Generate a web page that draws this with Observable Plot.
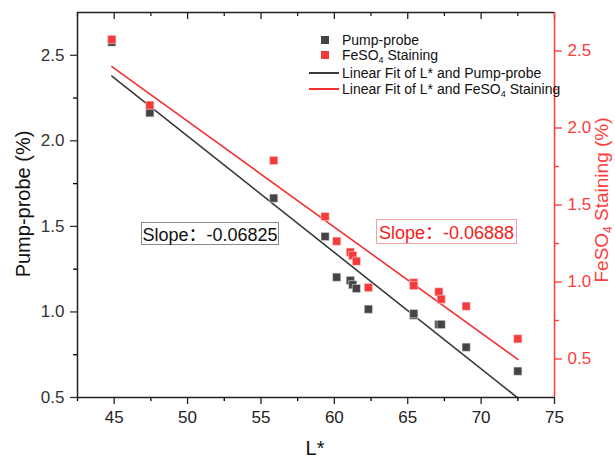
<!DOCTYPE html>
<html>
<head>
<meta charset="utf-8">
<script src="https://cdn.jsdelivr.net/npm/d3@7"></script>
<script src="https://cdn.jsdelivr.net/npm/@observablehq/plot@0.6"></script>
<style>
  body { margin: 0; background: #fff; font-family: "Liberation Sans", Arial, sans-serif; }
  #wrap { position: relative; width: 615px; height: 458px; overflow: hidden; }
  .ov { position: absolute; white-space: nowrap; }
  .lg { font-size: 14px; line-height: 14px; color: #111; }
  .sq { position: absolute; width: 8px; height: 8px; }
  .ln { position: absolute; height: 2px; width: 30px; }
  .cjk { font-family: "Noto Sans CJK SC", sans-serif; }
</style>
</head>
<body>
<div id="wrap"></div>
<script>
// ---- data ----
const lStar   = [44.84, 47.43, 55.87, 59.37, 60.16, 61.09, 61.25, 61.50, 62.32, 65.41, 65.41, 67.12, 67.28, 68.98, 72.50];
const pump    = [2.577, 2.164, 1.665, 1.441, 1.203, 1.184, 1.159, 1.137, 1.016, 0.981, 0.990, 0.927, 0.927, 0.794, 0.654];
const feso4   = [2.575, 2.148, 1.789, 1.425, 1.265, 1.194, 1.172, 1.135, 0.964, 0.995, 0.977, 0.936, 0.888, 0.843, 0.631];
const xTicks      = [45, 50, 55, 60, 65, 70, 75];
const xMinorTicks = [42.5, 47.5, 52.5, 57.5, 62.5, 67.5, 72.5];
const leftTicks      = [0.5, 1.0, 1.5, 2.0, 2.5];
const leftMinorTicks = [0.75, 1.25, 1.75, 2.25];
const rightTicks      = [0.5, 1.0, 1.5, 2.0, 2.5];
const rightMinorTicks = [0.75, 1.25, 1.75, 2.25];
const xDomain = [42.5, 75];
const leftDomain = [0.5, 2.75];
const rightDomain = [0.25, 2.75];
const slopePump = "-0.06825";
const slopeFe = "-0.06888";

// map right-axis values into the left scale's units
const k = (leftDomain[1] - leftDomain[0]) / (rightDomain[1] - rightDomain[0]);
const toLeft = r => leftDomain[0] + (r - rightDomain[0]) * k;
const fromLeft = l => rightDomain[0] + (l - leftDomain[0]) / k;

const black = "#444444", blackLine = "#3a3a3a";
const red = "#f23c3c", redLine = "#f43030", redAxis = "#ff3b3b";

const pumpData = lStar.map((x, i) => ({x, y: pump[i]}));
const feData = lStar.map((x, i) => ({x, y: toLeft(feso4[i])}));

const mL = 77, mR = 61, mT = 12, mB = 61, H = 458;
const frameH = H - mT - mB;

const chart = Plot.plot({
  width: 615, height: H,
  marginLeft: mL, marginRight: mR, marginTop: mT, marginBottom: mB,
  style: {fontFamily: '"Liberation Sans", Arial, sans-serif', background: "white"},
  x: {domain: xDomain, label: null},
  y: {domain: leftDomain, label: null},
  marks: [
    // fit lines
    Plot.linearRegressionY(pumpData, {x: "x", y: "y", ci: 0, stroke: blackLine, strokeWidth: 1.6}),
    Plot.linearRegressionY(feData, {x: "x", y: "y", ci: 0, stroke: redLine, strokeWidth: 1.6}),
    // points
    Plot.dot(pumpData, {x: "x", y: "y", symbol: "square", r: 4.6, fill: black, stroke: "#dddddd", strokeWidth: 0.6}),
    Plot.dot(feData, {x: "x", y: "y", symbol: "square", r: 4.6, fill: red, stroke: "#ffd0d0", strokeWidth: 0.6}),
    // bottom axis
    Plot.axisX({ticks: xTicks, tickSize: 7, tickPadding: 6, fontSize: 17, color: "#222", strokeWidth: 1.3, label: null}),
    Plot.axisX({ticks: xMinorTicks, tickSize: 4, tickFormat: () => "", strokeWidth: 1.3, label: null}),
    // top inward ticks
    Plot.ruleX(xTicks, {x: d => d, insetBottom: frameH - 7, stroke: "#222", strokeWidth: 1.3}),
    Plot.ruleX(xMinorTicks, {x: d => d, insetBottom: frameH - 4, stroke: "#222", strokeWidth: 1.3}),
    // left axis
    Plot.axisY({ticks: leftTicks, tickSize: 7, tickPadding: 6, fontSize: 17, color: "#333", strokeWidth: 1.3, tickFormat: d3.format(".1f"), label: null}),
    Plot.axisY({ticks: leftMinorTicks, tickSize: 4, tickFormat: () => "", strokeWidth: 1.3, label: null}),
    // right axis (red)
    Plot.axisY(rightTicks.map(toLeft), {anchor: "right", tickSize: 7, tickPadding: 6, fontSize: 17, color: redAxis, stroke: redAxis, strokeWidth: 1.3, tickFormat: d => fromLeft(d).toFixed(1), label: null}),
    Plot.axisY(rightMinorTicks.map(toLeft), {anchor: "right", tickSize: 4, tickFormat: () => "", stroke: redAxis, strokeWidth: 1.3, label: null}),
    // frame lines
    Plot.ruleY([leftDomain[1]], {stroke: "#222", strokeWidth: 1.5}),
    Plot.ruleY([leftDomain[0]], {stroke: "#222", strokeWidth: 1.5}),
    Plot.ruleX([xDomain[0]], {stroke: "#222", strokeWidth: 1.5}),
    Plot.ruleX([xDomain[1]], {stroke: redAxis, strokeWidth: 1.5})
  ]
});

const wrap = document.getElementById("wrap");
wrap.appendChild(chart);

function ov(html, css, cls = "ov") {
  const d = document.createElement("div");
  d.className = cls;
  d.innerHTML = html;
  Object.assign(d.style, css);
  wrap.appendChild(d);
  return d;
}

// axis titles
ov("Pump-probe (%)", {left: "22.5px", top: "204px", fontSize: "20px", lineHeight: "20px", color: "#111",
  transform: "translate(-50%,-50%) rotate(-90deg)"});
ov("FeSO<sub style='font-size:12px;vertical-align:-4px;line-height:0'>4</sub> Staining (%)", {left: "601px", top: "200px", fontSize: "19px", lineHeight: "19px", color: redAxis,
  transform: "translate(-50%,-50%) rotate(-90deg)"});
ov("L*", {left: "315px", top: "448px", fontSize: "20px", lineHeight: "20px", color: "#111",
  transform: "translate(-50%,-50%)"});

// legend
ov("", {left: "321px", top: "36px", background: black}, "sq");
ov("", {left: "321px", top: "51px", background: red}, "sq");
ov("", {left: "309px", top: "72px", background: blackLine}, "ln");
ov("", {left: "309px", top: "88px", background: redLine}, "ln");
const sub = "<sub style='font-size:9px;vertical-align:-3px;line-height:0'>4</sub>";
ov("Pump-probe", {left: "342px", top: "33px"}, "ov lg");
ov("FeSO" + sub + " Staining", {left: "342px", top: "48px"}, "ov lg");
ov("Linear Fit of L* and Pump-probe", {left: "342px", top: "66px"}, "ov lg");
ov("Linear Fit of L* and FeSO" + sub + " Staining", {left: "342px", top: "82px"}, "ov lg");

// slope boxes
const colon = "<span class='cjk'>：</span>";
ov("Slope" + colon + slopePump, {left: "141px", top: "222px", width: "136px", height: "21px", lineHeight: "21px",
  fontSize: "18px", color: "#111", border: "1px solid #8a8a8a", textAlign: "center", background: "white"});
ov("Slope" + colon + slopeFe, {left: "376px", top: "219px", width: "139px", height: "23px", lineHeight: "23px",
  fontSize: "18px", color: "#f41c1c", border: "1px solid #f3a0a0", textAlign: "center", background: "white"});
</script>
</body>
</html>
